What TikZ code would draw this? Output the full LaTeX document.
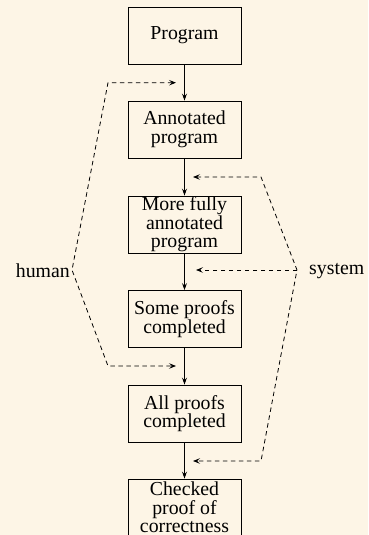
\documentclass[tikz,border=0pt]{standalone}
\usepackage{fontspec}
\setmainfont{Liberation Serif}
\usetikzlibrary{arrows.meta}
\definecolor{bgcream}{HTML}{FDF5E6}
\tikzset{dtip/.tip={Stealth[length=7pt,width=5.5pt,inset=3pt]}}
\begin{document}
\begin{tikzpicture}[x=1pt,y=-1pt,
  box/.style={draw=black,line width=0.9pt,minimum width=113pt,minimum height=57pt,inner sep=0pt,align=center,
    font=\fontsize{19.8}{18.6}\selectfont},
  flow/.style={line width=0.9pt,-{Stealth[length=7pt,width=5pt,inset=2.5pt]}},
  fb/.style={line width=0.8pt,dash pattern=on 4.5pt off 3.5pt},
  lbl/.style={inner sep=0pt,font=\fontsize{19.8}{18.6}\selectfont}]
\fill[bgcream] (0,0) rectangle (368,535);
\useasboundingbox (0,0) rectangle (368,535);
\clip (0,0) rectangle (368,535);
\node[box] (b1) at (184.5,35.5) {Program};
\node[box] (b2) at (184.5,129.5) {Annotated\\program};
\node[box] (b3) at (184.5,224.5) {More fully\\annotated\\program};
\node[box] (b4) at (184.5,319) {Some proofs\\completed};
\node[box] (b5) at (184.5,413.5) {All proofs\\completed};
\node[box] (b6) at (184.5,507.5) {Checked\\proof of\\correctness};
\draw[flow] (b1) -- (b2);
\draw[flow] (b2) -- (b3);
\draw[flow] (b3) -- (b4);
\draw[flow] (b4) -- (b5);
\draw[flow] (b5) -- (b6);
% human
\coordinate (hA) at (176,82.7);
\coordinate (h1) at (108,82.7);
\coordinate (hL) at (72,270);
\coordinate (h2) at (108,366);
\coordinate (hB) at (176,366);
\node[lbl,anchor=east] (human) at (70,271) {human};
\draw[fb,{dtip}-{dtip}] (hA) -- (h1) -- (hL) -- (h2) -- (hB);
% system
\coordinate (sA) at (193,177);
\coordinate (s1) at (261,177);
\coordinate (sR) at (297,270);
\coordinate (s2) at (261,461);
\coordinate (sB) at (193,461);
\coordinate (sM) at (196,270);
\node[lbl,anchor=west] (system) at (309,271) {system};
\draw[fb,{dtip}-{dtip}] (sA) -- (s1) -- (sR) -- (s2) -- (sB);
\draw[fb,-{dtip}] (sR) -- (sM);
\end{tikzpicture}
\end{document}
